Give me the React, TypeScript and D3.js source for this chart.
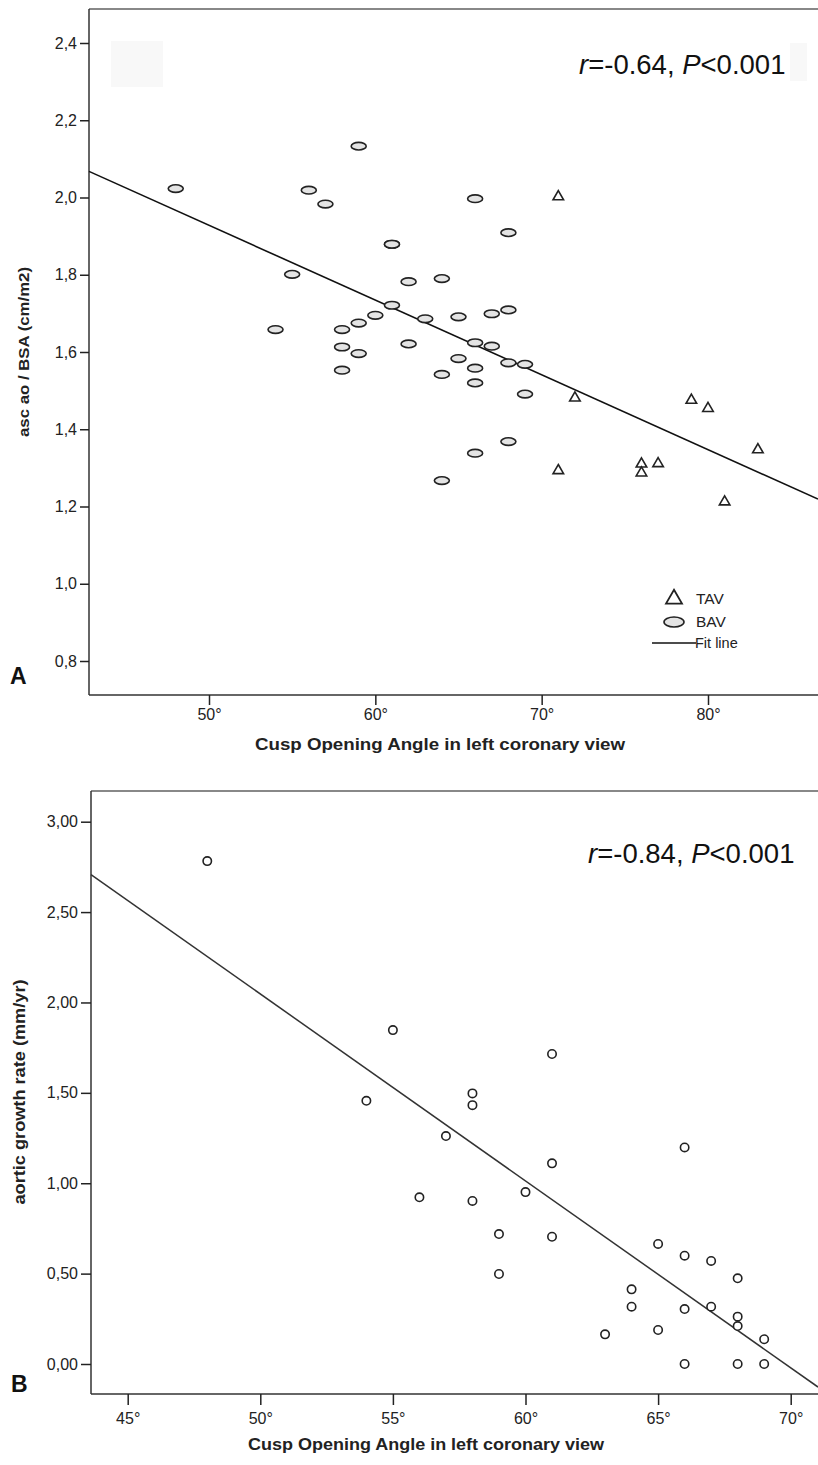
import { useEffect, useRef } from "react";
import * as d3 from "d3";

// Panel A: asc ao / BSA vs cusp opening angle
const bavAngle = [48, 59, 56, 57, 66, 68, 61, 61, 55, 54, 62, 64, 61, 60, 59, 58, 63, 65, 67, 68, 58, 59, 62, 66, 67, 65, 58, 68, 69, 64, 66, 66, 69, 68, 66, 64];
const bavRatio = [2.023, 2.133, 2.019, 1.983, 1.997, 1.909, 1.879, 1.879, 1.801, 1.658, 1.782, 1.790, 1.721, 1.695, 1.675, 1.658, 1.686, 1.691, 1.699, 1.709, 1.613, 1.596, 1.621, 1.624, 1.615, 1.583, 1.553, 1.572, 1.568, 1.542, 1.558, 1.520, 1.491, 1.368, 1.338, 1.267];
const tavAngle = [71, 72, 71, 79, 80, 83, 76, 76, 77, 81];
const tavRatio = [2.002, 1.481, 1.293, 1.475, 1.454, 1.347, 1.310, 1.287, 1.311, 1.212];
const fitA = [2.896, -0.01936]; // intercept, slope
const ticksAx = [50, 60, 70, 80];
const ticksAy = [0.8, 1.0, 1.2, 1.4, 1.6, 1.8, 2.0, 2.2, 2.4];

// Panel B: aortic growth rate vs cusp opening angle
const growthAngle = [48, 55, 61, 54, 58, 58, 57, 61, 56, 58, 60, 59, 61, 59, 66, 65, 66, 67, 68, 64, 64, 66, 67, 68, 68, 63, 65, 69, 66, 68, 69];
const growthRate = [2.782, 1.847, 1.715, 1.456, 1.497, 1.432, 1.261, 1.110, 0.922, 0.902, 0.951, 0.719, 0.704, 0.498, 1.198, 0.664, 0.599, 0.570, 0.474, 0.413, 0.317, 0.304, 0.317, 0.262, 0.210, 0.164, 0.188, 0.137, 0.0, 0.0, 0.0];
const fitB = [7.217, -0.1034];
const ticksBx = [45, 50, 55, 60, 65, 70];
const ticksBy = [0, 0.5, 1.0, 1.5, 2.0, 2.5, 3.0];

const FONT = "Liberation Sans, Arial, Helvetica, sans-serif";

function styleAxis(g: d3.Selection<SVGGElement, unknown, null, undefined>) {
    g.select(".domain").remove();
    g.selectAll(".tick line").attr("stroke", "#222").attr("stroke-width", 1.5);
    g.selectAll(".tick text")
        .attr("fill", "#222")
        .attr("font-family", FONT)
        .attr("font-size", "16px");
}

function App() {
    const svgRef = useRef<SVGSVGElement>(null);

    useEffect(() => {
        document.body.style.margin = "0";
        const svgEl = svgRef.current;
        if (!svgEl) return;
        const svg = d3.select(svgEl);
        svg.selectAll("*").remove();

        const comma = (digits: number) => (d: d3.NumberValue) => (+d).toFixed(digits).replace(".", ",");

        // ---------- Panel A ----------
        {
            const box = { left: 89, top: 9, right: 818, bottom: 695 };
            const x = d3.scaleLinear().domain([50, 80]).range([209, 708]);
            const y = d3.scaleLinear().domain([0.8, 2.4]).range([661, 43]);

            // faint scan artefacts
            svg.append("rect").attr("x", 111).attr("y", 41).attr("width", 52).attr("height", 46).attr("fill", "#f8f8f8");
            svg.append("rect").attr("x", 790).attr("y", 43).attr("width", 17).attr("height", 38).attr("fill", "#f8f8f8");

            svg.append("line")
                .attr("x1", box.left).attr("x2", box.right).attr("y1", box.top).attr("y2", box.top)
                .attr("stroke", "#888").attr("stroke-width", 2);
            svg.append("line")
                .attr("x1", box.left).attr("x2", box.left).attr("y1", box.top).attr("y2", box.bottom)
                .attr("stroke", "#333").attr("stroke-width", 1.5);
            svg.append("line")
                .attr("x1", box.left).attr("x2", box.right).attr("y1", box.bottom).attr("y2", box.bottom)
                .attr("stroke", "#333").attr("stroke-width", 1.5);

            svg.append("g")
                .attr("transform", `translate(${box.left},0)`)
                .call(d3.axisLeft(y).tickValues(ticksAy).tickSize(9).tickPadding(3).tickFormat(comma(1)))
                .call(styleAxis);
            svg.append("g")
                .attr("transform", `translate(0,${box.bottom})`)
                .call(d3.axisBottom(x).tickValues(ticksAx).tickSize(10).tickPadding(4).tickFormat(d => `${d}°`))
                .call(styleAxis);

            const x0 = x.invert(box.left), x1 = x.invert(box.right);
            svg.append("line")
                .attr("x1", x(x0)).attr("y1", y(fitA[0] + fitA[1] * x0))
                .attr("x2", x(x1)).attr("y2", y(fitA[0] + fitA[1] * x1))
                .attr("stroke", "#111").attr("stroke-width", 1.6);

            svg.append("g")
                .selectAll("ellipse")
                .data(bavAngle.map((a, i) => [a, bavRatio[i]]))
                .join("ellipse")
                .attr("cx", d => x(d[0]))
                .attr("cy", d => y(d[1]))
                .attr("rx", 7.5).attr("ry", 3.8)
                .attr("fill", "#e4e4e4").attr("stroke", "#222").attr("stroke-width", 1.6);

            const tri = d3.symbol().type(d3.symbolTriangle).size(48);
            svg.append("g")
                .selectAll("path")
                .data(tavAngle.map((a, i) => [a, tavRatio[i]]))
                .join("path")
                .attr("transform", d => `translate(${x(d[0])},${y(d[1])})`)
                .attr("d", tri)
                .attr("fill", "#fff").attr("stroke", "#222").attr("stroke-width", 1.6);

            // legend
            const lg = svg.append("g").attr("font-family", FONT).attr("fill", "#222");
            lg.append("path")
                .attr("transform", "translate(674,599)")
                .attr("d", d3.symbol().type(d3.symbolTriangle).size(110)())
                .attr("fill", "#fff").attr("stroke", "#222").attr("stroke-width", 1.8);
            lg.append("text").attr("x", 696).attr("y", 604).attr("font-size", "15.5px").text("TAV");
            lg.append("ellipse").attr("cx", 674).attr("cy", 622).attr("rx", 10).attr("ry", 5)
                .attr("fill", "#e4e4e4").attr("stroke", "#222").attr("stroke-width", 1.6);
            lg.append("text").attr("x", 696).attr("y", 627).attr("font-size", "15.5px").text("BAV");
            lg.append("line").attr("x1", 652).attr("x2", 696).attr("y1", 643).attr("y2", 643)
                .attr("stroke", "#111").attr("stroke-width", 1.6);
            lg.append("text").attr("x", 695).attr("y", 648).attr("font-size", "14.5px").text("Fit line");

            const ann = svg.append("text").attr("x", 579).attr("y", 74)
                .attr("font-family", FONT).attr("font-size", "27.5px").attr("fill", "#111");
            ann.append("tspan").attr("font-style", "italic").text("r");
            ann.append("tspan").text("=-0.64, ");
            ann.append("tspan").attr("font-style", "italic").text("P");
            ann.append("tspan").text("<0.001");

            svg.append("text").attr("x", 255).attr("y", 750)
                .attr("textLength", 370).attr("lengthAdjust", "spacingAndGlyphs")
                .attr("font-family", FONT).attr("font-size", "16px").attr("font-weight", "bold").attr("fill", "#222")
                .text("Cusp Opening Angle in left coronary view");
            svg.append("text").attr("transform", "translate(29,352) rotate(-90)").attr("text-anchor", "middle")
                .attr("textLength", 170).attr("lengthAdjust", "spacingAndGlyphs")
                .attr("font-family", FONT).attr("font-size", "15px").attr("font-weight", "bold").attr("fill", "#222")
                .text("asc ao / BSA (cm/m2)");
            svg.append("text").attr("x", 10).attr("y", 684)
                .attr("font-family", FONT).attr("font-size", "23px").attr("font-weight", "bold").attr("fill", "#111")
                .text("A");
        }

        // ---------- Panel B ----------
        {
            const box = { left: 91, top: 791, right: 818, bottom: 1394 };
            const x = d3.scaleLinear().domain([45, 70]).range([127.7, 790.7]);
            const y = d3.scaleLinear().domain([0, 3]).range([1364, 821.7]);

            svg.append("line")
                .attr("x1", box.left).attr("x2", box.right).attr("y1", box.top).attr("y2", box.top)
                .attr("stroke", "#888").attr("stroke-width", 2);
            svg.append("line")
                .attr("x1", box.left).attr("x2", box.left).attr("y1", box.top).attr("y2", box.bottom)
                .attr("stroke", "#333").attr("stroke-width", 1.5);
            svg.append("line")
                .attr("x1", box.left).attr("x2", box.right).attr("y1", box.bottom).attr("y2", box.bottom)
                .attr("stroke", "#333").attr("stroke-width", 1.5);

            svg.append("g")
                .attr("transform", `translate(${box.left},0)`)
                .call(d3.axisLeft(y).tickValues(ticksBy).tickSize(10).tickPadding(3).tickFormat(comma(2)))
                .call(styleAxis);
            svg.append("g")
                .attr("transform", `translate(0,${box.bottom})`)
                .call(d3.axisBottom(x).tickValues(ticksBx).tickSize(11).tickPadding(8).tickFormat(d => `${d}°`))
                .call(styleAxis);

            const x0 = x.invert(box.left), x1 = x.invert(box.right);
            svg.append("line")
                .attr("x1", x(x0)).attr("y1", y(fitB[0] + fitB[1] * x0))
                .attr("x2", x(x1)).attr("y2", y(fitB[0] + fitB[1] * x1))
                .attr("stroke", "#333").attr("stroke-width", 1.5);

            svg.append("g")
                .selectAll("circle")
                .data(growthAngle.map((a, i) => [a, growthRate[i]]))
                .join("circle")
                .attr("cx", d => x(d[0]))
                .attr("cy", d => y(d[1]))
                .attr("r", 4.2)
                .attr("fill", "#fff").attr("stroke", "#222").attr("stroke-width", 1.6);

            const ann = svg.append("text").attr("x", 588).attr("y", 863)
                .attr("font-family", FONT).attr("font-size", "27.5px").attr("fill", "#111");
            ann.append("tspan").attr("font-style", "italic").text("r");
            ann.append("tspan").text("=-0.84, ");
            ann.append("tspan").attr("font-style", "italic").text("P");
            ann.append("tspan").text("<0.001");

            svg.append("text").attr("x", 248).attr("y", 1450)
                .attr("textLength", 356).attr("lengthAdjust", "spacingAndGlyphs")
                .attr("font-family", FONT).attr("font-size", "16px").attr("font-weight", "bold").attr("fill", "#222")
                .text("Cusp Opening Angle in left coronary view");
            svg.append("text").attr("transform", "translate(25,1092) rotate(-90)").attr("text-anchor", "middle")
                .attr("textLength", 225).attr("lengthAdjust", "spacingAndGlyphs")
                .attr("font-family", FONT).attr("font-size", "16px").attr("font-weight", "bold").attr("fill", "#222")
                .text("aortic growth rate (mm/yr)");
            svg.append("text").attr("x", 11).attr("y", 1392)
                .attr("font-family", FONT).attr("font-size", "23px").attr("font-weight", "bold").attr("fill", "#111")
                .text("B");
        }
    }, []);

    return (
        <svg
            ref={svgRef}
            width={818}
            height={1465}
            style={{ position: "absolute", left: 0, top: 0, background: "#fff", display: "block" }}
        />
    );
}

export default App;
